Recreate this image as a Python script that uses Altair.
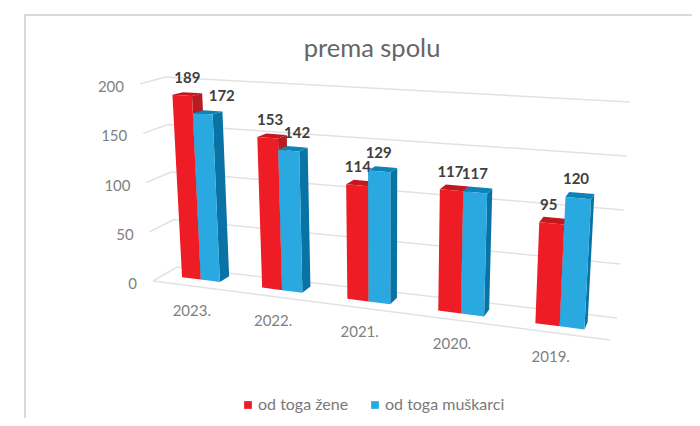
import altair as alt
import numpy as np
import pandas as pd

# ---- chart values
years = ["2023.", "2022.", "2021.", "2020.", "2019."]
zene = [189, 153, 114, 117, 95]
muskarci = [172, 142, 129, 117, 120]
series_names = ["od toga žene", "od toga muškarci"]
ticks = [0, 50, 100, 150, 200]
title_text = "prema spolu"

# ---- styles
RED, RED_SIDE, RED_TOP = "#EE1C25", "#B81C20", "#C4181E"
BLUE, BLUE_SIDE, BLUE_TOP = "#29A9E0", "#0A73A5", "#0B82B8"
GRID, BORDER = "#E2E2E2", "#DADADA"
FONT = "Lato"

# ---- oblique 3D camera of the picture: (slot, value, depth) -> screen point
BAR_W = 0.24
DEPTH = 0.24
camera_pairs = [
    (0, 0, 0, 182, 278), (0, 189, 0, 172, 95), (.24, 172, 0, 193, 113), (.24, 0, 0, 201, 280),
    (.48, 172, 0, 212.7, 114), (.48, 0, 0, 220, 282), (.48, 172, DEPTH, 222.7, 111.7), (.48, 0, DEPTH, 229, 273),
    (1, 153, 0, 256.7, 137), (1, 0, 0, 262.7, 289), (1.48, 142, DEPTH, 308, 148), (1.48, 0, 0, 302.7, 292.7),
    (1.48, 0, DEPTH, 310, 286.7),
    (2, 114, 0, 346.7, 184), (2, 0, 0, 347.3, 299), (2.48, 129, DEPTH, 397.3, 169), (2.48, 0, 0, 389.3, 304),
    (3, 117, 0, 440, 189), (3, 0, 0, 438, 310.7), (3.48, 0, 0, 485, 316.7), (3.48, 117, DEPTH, 492.7, 188.3),
    (3.48, 0, DEPTH, 488, 311.7),
    (4, 0, 0, 535, 323), (4, 95, 0, 539, 222), (4.24, 0, 0, 560, 326), (4.24, 120, 0, 566, 197),
    (4.48, 120, 0, 590.7, 199), (4.48, 0, 0, 584, 328), (4.48, 0, DEPTH, 589, 322), (4.48, 120, DEPTH, 593.7, 194),
]
A, b = [], []
for u, v, w, sx, sy in camera_pairs:
    v = v / 100
    A.append([u, v, w, 1, 0, 0, 0, 0, -sx * u, -sx * v, -sx * w]); b.append(sx)
    A.append([0, 0, 0, 0, u, v, w, 1, -sy * u, -sy * v, -sy * w]); b.append(sy)
P = np.linalg.lstsq(np.array(A), np.array(b), rcond=None)[0]


def project(u, v, w):
    v = v / 100
    d = P[8] * u + P[9] * v + P[10] * w + 1
    return (P[0] * u + P[1] * v + P[2] * w + P[3]) / d, (P[4] * u + P[5] * v + P[6] * w + P[7]) / d


# ---- frame of the chart (corners at value 0 and at value 200)
front_left = ((153, 281), (140, 84))
back_left = ((177, 267), (165, 77))
back_right = ((617, 318), (630, 102))
floor_front_right = (610, 340)


def corner(c, v):
    t = v / 200
    return c[0][0] + (c[1][0] - c[0][0]) * t, c[0][1] + (c[1][1] - c[0][1]) * t


grid_rows = []
for v in ticks:
    for k, c in enumerate((front_left, back_left, back_right)):
        x, y = corner(c, v)
        grid_rows.append(dict(line=f"g{v}", k=k, x=x, y=y))
fx, fy = corner(front_left, 0)
grid_rows += [dict(line="floor", k=0, x=fx, y=fy), dict(line="floor", k=1, x=floor_front_right[0], y=floor_front_right[1])]
grid_df = pd.DataFrame(grid_rows)


def faces(vals, start, name, side_col, top_col):
    front, other = [], []
    for i, v in enumerate(vals):
        u0, u1 = i + start, i + start + BAR_W
        polys = {
            "front": ([(u0, 0, 0), (u1, 0, 0), (u1, v, 0), (u0, v, 0)], None),
            "side": ([(u1, 0, 0), (u1, 0, DEPTH), (u1, v, DEPTH), (u1, v, 0)], side_col),
            "top": ([(u0, v, 0), (u1, v, 0), (u1, v, DEPTH), (u0, v, DEPTH)], top_col),
        }
        for fname, (pts, col) in polys.items():
            for k, p in enumerate(pts):
                x, y = project(*p)
                row = dict(poly=f"{name}{i}{fname}", k=k, x=x, y=y, series=name, col=col)
                (front if fname == "front" else other).append(row)
    return pd.DataFrame(front), pd.DataFrame(other)


X = alt.X("x:Q", scale=alt.Scale(domain=[8, 692]), axis=None)
Y = alt.Y("y:Q", scale=alt.Scale(domain=[418, 8]), axis=None)
color_scale = alt.Scale(domain=series_names, range=[RED, BLUE])
legend = alt.Legend(
    orient="none", legendX=232, legendY=389, direction="horizontal", title=None,
    symbolType="square", symbolSize=60, symbolStrokeWidth=0, labelFont=FONT, labelFontSize=16,
    labelColor="#7A7A7A", columnPadding=18, labelOffset=2,
)

layers = []
# frame border of the original picture
border = pd.DataFrame(dict(line=["b", "b", "b"], k=[0, 1, 2], x=[25, 25, 692], y=[418, 15, 15]))
layers.append(alt.Chart(border).mark_line(color=BORDER, strokeWidth=2).encode(X, Y, order="k:Q", detail="line:N"))
layers.append(alt.Chart(grid_df).mark_line(color=GRID, strokeWidth=1.5).encode(X, Y, order="k:Q", detail="line:N"))

for vals, start, name, sc, tc in (
    (zene, 0, series_names[0], RED_SIDE, RED_TOP),
    (muskarci, 0.24, series_names[1], BLUE_SIDE, BLUE_TOP),
):
    fr, ot = faces(vals, start, name, sc, tc)
    layers.append(alt.Chart(ot).mark_line(strokeWidth=0).encode(
        X, Y, order="k:Q", detail="poly:N", fill=alt.Fill("col:N", scale=None)))
    layers.append(alt.Chart(fr).mark_line(strokeWidth=0).encode(
        X, Y, order="k:Q", detail="poly:N",
        fill=alt.Fill("series:N", scale=color_scale, legend=legend, sort=series_names)))

# value labels
nudge_zene = [0, -2, -3, -4, -5]
nudge_musk = [14, 4, -4, -3, -4]
lab_rows = []
for vals, start, nudge in ((zene, 0, nudge_zene), (muskarci, 0.24, nudge_musk)):
    for i, v in enumerate(vals):
        x, y = project(i + start + BAR_W / 2, v, DEPTH / 2)
        lab_rows.append(dict(x=x + nudge[i], y=y - 16, t=str(v)))
layers.append(alt.Chart(pd.DataFrame(lab_rows)).mark_text(
    font=FONT, fontSize=15, fontWeight="bold", color="#404040", baseline="middle", align="center"
).encode(X, Y, text="t:N"))

# category labels
cat_rows = []
for i, t in enumerate(years):
    x, y = project(i + BAR_W, 0, 0)
    cat_rows.append(dict(x=x - 9, y=y + 31, t=t))
layers.append(alt.Chart(pd.DataFrame(cat_rows)).mark_text(
    font=FONT, fontSize=15, color="#7F7F7F", baseline="middle", align="center"
).encode(X, Y, text="t:N"))

# value axis labels
tick_rows = []
for v in ticks:
    x, y = corner(front_left, v)
    tick_rows.append(dict(x=x - 16, y=y + 3, t=str(v)))
layers.append(alt.Chart(pd.DataFrame(tick_rows)).mark_text(
    font=FONT, fontSize=15, color="#7F7F7F", baseline="middle", align="right"
).encode(X, Y, text="t:N"))

# title
layers.append(alt.Chart(pd.DataFrame(dict(x=[372], y=[49], t=[title_text]))).mark_text(
    font=FONT, fontSize=25.5, color="#666666", baseline="middle", align="center"
).encode(X, Y, text="t:N"))

chart = alt.layer(*layers).properties(
    width=684, height=410, padding=0, autosize=alt.AutoSizeParams(type="none"), background="white"
).configure_view(stroke=None)

chart.save("out.html", embed_options={"renderer": "svg", "actions": False})
